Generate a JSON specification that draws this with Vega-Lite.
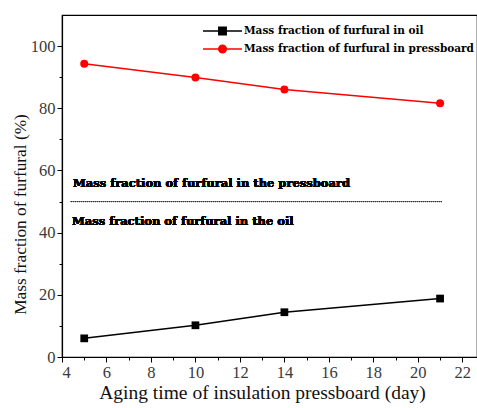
{
  "$schema": "https://vega.github.io/schema/vega-lite/v6.json",
  "width": 415,
  "height": 342,
  "autosize": {"type": "none"},
  "padding": {"left": 62, "top": 15, "right": 0, "bottom": 51},
  "background": "white",
  "config": {
    "view": {"stroke": "black", "strokeWidth": 1.2},
    "font": "Liberation Serif",
    "axis": {
      "domainColor": "black",
      "domainWidth": 1.2,
      "tickColor": "black",
      "tickWidth": 1,
      "labelColor": "#3a3a3a",
      "labelFontSize": 16.5,
      "labelFont": "Liberation Serif",
      "titleFont": "Liberation Serif",
      "titleFontWeight": "normal",
      "titleColor": "#111111",
      "grid": false
    }
  },
  "data": {
    "values": [
      {"day": 5, "value": 6.0, "series": "Mass fraction of furfural in oil"},
      {"day": 10, "value": 10.2, "series": "Mass fraction of furfural in oil"},
      {"day": 14, "value": 14.4, "series": "Mass fraction of furfural in oil"},
      {"day": 21, "value": 18.8, "series": "Mass fraction of furfural in oil"},
      {"day": 5, "value": 94.3, "series": "Mass fraction of furfural in pressboard"},
      {"day": 10, "value": 89.9, "series": "Mass fraction of furfural in pressboard"},
      {"day": 14, "value": 86.0, "series": "Mass fraction of furfural in pressboard"},
      {"day": 21, "value": 81.6, "series": "Mass fraction of furfural in pressboard"}
    ]
  },
  "encoding": {
    "x": {
      "field": "day",
      "type": "quantitative",
      "scale": {"domain": [4, 22.66], "nice": false, "zero": false},
      "axis": {
        "title": "Aging time of insulation pressboard (day)",
        "titleFontSize": 19.5,
        "titleX": 200,
        "titleY": 35,
        "titleAlign": "center",
        "titleBaseline": "middle",
        "values": [4,5,6,7,8,9,10,11,12,13,14,15,16,17,18,19,20,21,22],
        "labelExpr": "datum.value % 2 === 0 ? datum.label : ''",
        "tickSize": {"condition": {"test": "datum.value % 2 === 0", "value": 5}, "value": 3},
        "labelPadding": 2
      }
    },
    "y": {
      "field": "value",
      "type": "quantitative",
      "scale": {"domain": [0, 110], "nice": false},
      "axis": {
        "title": "Mass fraction of furfural (%)",
        "titleFontSize": 17.3,
        "titleX": -42,
        "titleY": 199,
        "titleAngle": -90,
        "titleAlign": "center",
        "titleBaseline": "middle",
        "values": [0,10,20,30,40,50,60,70,80,90,100],
        "labelExpr": "datum.value % 20 === 0 ? datum.label : ''",
        "tickSize": {"condition": {"test": "datum.value % 20 === 0", "value": 5}, "value": 3},
        "labelPadding": 2
      }
    },
    "color": {
      "field": "series",
      "type": "nominal",
      "scale": {"domain": ["Mass fraction of furfural in oil", "Mass fraction of furfural in pressboard"], "range": ["black", "#ff0000"]},
      "legend": {
        "title": null,
        "orient": "none",
        "legendX": 149.5,
        "legendY": 5,
        "padding": 0,
        "symbolSize": 400,
        "symbolStrokeWidth": 1.5,
        "labelFont": "DejaVu Serif",
        "labelFontSize": 10.5,
        "labelFontWeight": "bold",
        "labelColor": "black",
        "labelOffset": 10.5,
        "rowPadding": 0,
        "labelLimit": 400
      }
    }
  },
  "layer": [
    {
      "mark": {"type": "line", "strokeWidth": 1.5}
    },
    {
      "transform": [{"filter": "datum.series === 'Mass fraction of furfural in oil'"}],
      "mark": {"type": "point", "shape": "square", "filled": true, "size": 60, "opacity": 1},
      "encoding": {"color": {"value": "black"}}
    },
    {
      "transform": [{"filter": "datum.series === 'Mass fraction of furfural in pressboard'"}],
      "mark": {"type": "point", "shape": "circle", "filled": true, "size": 64, "opacity": 1},
      "encoding": {"color": {"value": "#ff0000"}}
    },
    {
      "transform": [{"filter": "false"}],
      "mark": {"type": "point", "filled": false, "strokeWidth": 1.5, "opacity": 1},
      "encoding": {
        "shape": {
          "field": "series",
          "type": "nominal",
          "scale": {
            "domain": ["Mass fraction of furfural in oil", "Mass fraction of furfural in pressboard"],
            "range": [
              "M-1.95,0H1.95M-0.37,-0.37H0.37V0.37H-0.37ZM-0.37,-0.22H0.37M-0.37,-0.08H0.37M-0.37,0.08H0.37M-0.37,0.22H0.37",
              "M-1.95,0H1.95M0.38,0A0.38,0.38,0,1,1,-0.38,0A0.38,0.38,0,1,1,0.38,0ZM0.25,0A0.25,0.25,0,1,1,-0.25,0A0.25,0.25,0,1,1,0.25,0ZM0.12,0A0.12,0.12,0,1,1,-0.12,0A0.12,0.12,0,1,1,0.12,0Z"
            ]
          },
          "legend": null
        }
      }
    },
    {
      "mark": {"type": "rule", "strokeDash": [1, 1], "strokeWidth": 1},
      "encoding": {
        "x": {"datum": 4.4},
        "x2": {"datum": 21.1},
        "y": {"datum": 50},
        "color": {"value": "#333333"}
      }
    },
    {
      "mark": {"type": "text", "text": "Mass fraction of furfural in the pressboard", "align": "left", "baseline": "middle", "font": "DejaVu Serif", "fontSize": 11.5, "fontWeight": "bold"},
      "encoding": {
        "x": {"datum": 4.5},
        "y": {"datum": 55.5},
        "color": {"value": "black"}
      }
    },
    {
      "mark": {"type": "text", "text": "Mass fraction of furfural in the oil", "align": "left", "baseline": "middle", "font": "DejaVu Serif", "fontSize": 11.5, "fontWeight": "bold"},
      "encoding": {
        "x": {"datum": 4.45},
        "y": {"datum": 43.3},
        "color": {"value": "black"}
      }
    }
  ]
}
